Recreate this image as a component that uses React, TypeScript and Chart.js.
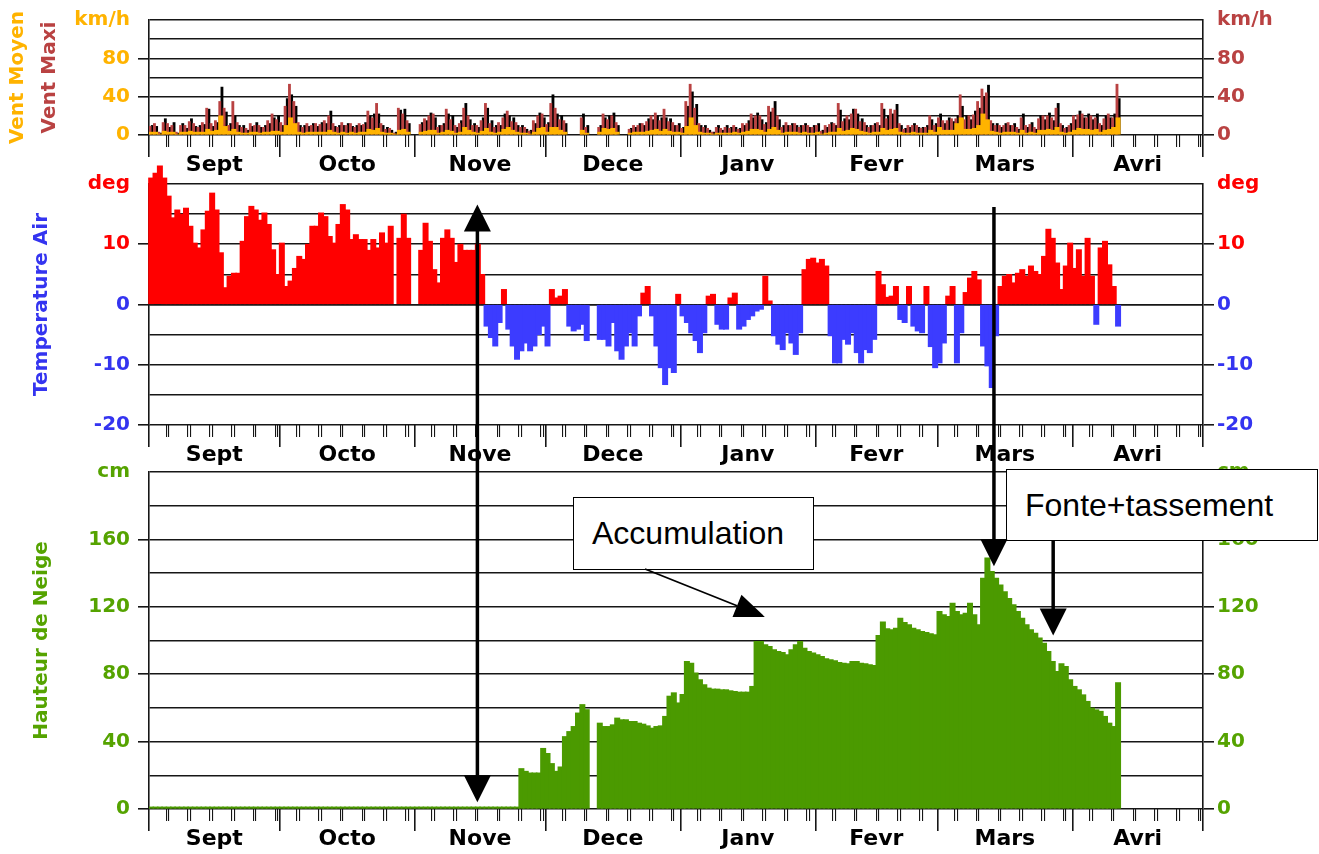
import React, { useEffect, useRef, useState } from 'react';
import { Chart, registerables } from 'chart.js';

Chart.register(...registerables);

// ---------------- DATA ----------------
const moisLabels = ['Sept', 'Octo', 'Nove', 'Dece', 'Janv', 'Fevr', 'Mars', 'Avri'];
// day index (0 = 1 Sept) of each month start, last = end of April
const debutsMois = [0, 30, 61, 91, 122, 153, 181, 212, 242];

// Vent maxi, second observation (black), km/h, one value per day from 1 Sept
const ventMaxiObs = [
  10, 9, 2, 17, 8, 13, 2, 12, 7, 17,
  9, 10, 11, 27, 9, 13, 50, 24, 12, 20,
  10, 10, 5, 9, 13, 8, 10, 12, 18, 20,
  10, 38, 42, 30, 10, 10, 9, 12, 9, 13,
  12, 25, 9, 10, 10, 12, 9, 10, 10, 13,
  20, 22, 22, 10, 8, 5, 3, 26, 27, 12,
  null, null, 13, 15, 23, 18, 10, 12, 22, 20,
  8, 15, 33, 16, 12, 8, 18, 28, 15, 10,
  10, 22, 20, 18, 10, 10, 6, 5, 12, 23,
  18, 13, 42, 22, 20, 12, null, null, null, 22,
  10, null, null, 10, 18, 20, 23, 10, null, null,
  7, 8, 12, 10, 17, 16, 20, 18, 18, 17,
  10, 12, 8, 30, 45, 32, 10, 10, 5, 3,
  10, 5, 10, 8, 8, 7, 10, 15, 18, 23,
  16, 13, 24, 35, 16, 10, 10, 12, 10, 10,
  12, 8, 10, 12, 5, 8, 13, 10, 26, 17,
  16, 27, 22, 17, 10, 10, 12, 10, 27, 20,
  22, 32, 10, 7, 8, 12, 8, 8, 10, 16,
  12, 22, 12, 18, 14, 20, 30, 20, 16, 25,
  28, 40, 52, 12, 12, 8, 12, 10, 12, 6,
  22, 8, 13, 6, 20, 16, 23, 15, 33, 10,
  8, 12, 16, 25, 18, 22, 16, 22, 10, 20,
  18, 22, 38,
];

// Vent Maxi (brown), km/h
const ventMaxi = [
  9, 12, 3, 13, 12, 10, 3, 10, 10, 14,
  12, 8, 13, 28, 12, 15, 35, 28, 10, 35,
  13, 8, 7, 12, 10, 10, 8, 15, 22, 16,
  13, 30, 53, 35, 13, 8, 12, 10, 12, 11,
  15, 20, 12, 8, 13, 10, 12, 8, 12, 11,
  25, 18, 33, 12, 6, 7, 2, 28, 22, 15,
  null, null, 11, 17, 20, 22, 8, 10, 27, 16,
  10, 12, 28, 20, 10, 10, 15, 33, 12, 8,
  13, 18, 25, 14, 13, 8, 8, 4, 15, 20,
  22, 11, 33, 28, 16, 15, null, null, null, 18,
  8, null, null, 8, 22, 16, 20, 13, null, null,
  6, 10, 10, 12, 14, 20, 23, 15, 27, 14,
  13, 10, 7, 35, 53, 28, 12, 8, 7, 3,
  8, 7, 8, 7, 10, 6, 12, 12, 22, 20,
  20, 11, 30, 28, 20, 8, 13, 10, 12, 8,
  10, 10, 8, 10, 4, 10, 11, 12, 33, 14,
  20, 22, 27, 14, 13, 8, 10, 13, 33, 17,
  27, 26, 12, 6, 10, 10, 10, 7, 8, 20,
  10, 18, 15, 15, 17, 17, 42, 16, 20, 21,
  35, 48, 44, 15, 10, 10, 10, 13, 10, 8,
  18, 10, 11, 8, 17, 20, 20, 18, 28, 12,
  7, 10, 20, 21, 22, 18, 20, 18, 12, 17,
  22, 18, 53,
];

// Vent Moyen (orange), km/h
const ventMoyen = [
  3, 3, 1, 4, 3, 3, 1, 3, 3, 4,
  3, 3, 3, 6, 4, 5, 20, 9, 4, 6,
  3, 2, 2, 3, 3, 2, 3, 3, 4, 4,
  3, 10, 18, 12, 3, 2, 3, 3, 3, 3,
  3, 5, 3, 2, 3, 2, 3, 2, 3, 3,
  6, 5, 7, 3, 2, 2, 1, 5, 6, 3,
  null, null, 3, 4, 5, 5, 2, 3, 5, 4,
  2, 3, 8, 5, 3, 2, 4, 7, 3, 2,
  3, 6, 8, 5, 3, 2, 2, 1, 3, 7,
  8, 3, 8, 8, 5, 3, null, null, null, 5,
  2, null, null, 3, 7, 6, 7, 3, null, null,
  2, 3, 3, 3, 4, 5, 6, 4, 6, 4,
  3, 3, 2, 9, 18, 10, 3, 2, 2, 1,
  2, 2, 2, 2, 3, 2, 3, 4, 6, 6,
  5, 3, 6, 8, 5, 2, 3, 3, 3, 2,
  3, 2, 2, 3, 1, 2, 3, 3, 7, 4,
  5, 7, 6, 4, 3, 2, 3, 3, 7, 5,
  6, 7, 3, 2, 2, 3, 2, 2, 2, 5,
  3, 8, 5, 5, 5, 12, 18, 6, 6, 7,
  10, 22, 16, 4, 3, 2, 3, 3, 3, 2,
  5, 2, 3, 2, 5, 5, 6, 5, 8, 3,
  2, 3, 5, 7, 6, 6, 5, 6, 3, 5,
  6, 8, 18,
];

// Temperature Air, deg
const temperatureAir = [
  21, 21.8, 23, 21, 18, 14.4, 15.7, 15, 16, 13,
  10.2, 9.4, 12.4, 15.5, 18.5, 15.7, 8.6, 2.8, 4.7, 5.2,
  5.2, 10.5, 14.6, 16.3, 15.7, 14, 15.2, 13.3, 9.1, 5,
  10.2, 3, 3.9, 6, 8, 7.5, 10, 13, 13, 15.2,
  14.6, 11.3, 10.2, 13.3, 16.6, 15.7, 10.8, 11.6, 10.8, 10.8,
  9, 10.8, 9.4, 11.9, 10.2, 13, null, 11, 15, 11,
  null, null, 9, 13.5, 10.5, 5.8, 3.6, 11, 12.4, 11,
  7, 10, 9, 9, 9, 10, 5, -3.6, -5.5, -6.9,
  -3, 2.5, -4.1, -6.9, -9.1, -7.7, -6.4, -7.7, -6.9, -5,
  -3.6, -6.9, 2.5, 1.1, 1.4, 2.5, -3.6, -4.4, -4.1, -3.3,
  -6, null, null, -5.8, -5.8, -6.9, -3, -7.7, -9.1, -6.9,
  -4.7, -6.9, -1.9, 1.9, 3, -1.9, -6.9, -10.5, -13.3, -10.5,
  -11.3, 1.7, -1.9, -3, -4.7, -6, -8, -4.7, 1.4, 1.7,
  -3.3, -4.1, -4.1, 1.1, 1.9, -4.1, -3.6, -2.5, -1.9, -1.1,
  -0.8, 4.7, 0.6, -5.2, -6.6, -7.5, -4.7, -6.4, -8.3, -4.7,
  5.8, 7.5, 7.7, 6.9, 7.5, 6.4, -5.2, -9.7, -9.7, -5.8,
  -6.6, -4.7, -8, -9.7, -7.5, -8, -5.8, 5.5, 3.3, 1.2,
  1.4, 3, -2.5, -3, 3, -3.6, -4.4, -4.7, 3, -7,
  -10.5, -9.7, -6.4, 1.4, 3, -9.7, -4.7, 2, 4.4, 5.5,
  4.1, -6.9, -10.2, -13.8, -5.2, 3, 4.7, 5, 3.6, 5.2,
  5.8, 4.7, 6.4, 5.5, 5, 8, 12.5, 11, 6.9, 2.5,
  6.4, 10.2, 6, 9.1, 4.7, 11, 4.7, -3.3, 9.4, 10.5,
  6.6, 3, -3.6,
];

// Hauteur de Neige, cm
const hauteurNeige = [
  0, 0, 0, 0, 0, 0, 0, 0, 0, 0,
  0, 0, 0, 0, 0, 0, 0, 0, 0, 0,
  0, 0, 0, 0, 0, 0, 0, 0, 0, 0,
  0, 0, 0, 0, 0, 0, 0, 0, 0, 0,
  0, 0, 0, 0, 0, 0, 0, 0, 0, 0,
  0, 0, 0, 0, 0, 0, 0, 0, 0, 0,
  0, 0, 0, 0, 0, 0, 0, 0, 0, 0,
  0, 0, 0, 0, 0, 0, 0, 0, 0, 0,
  0, 0, 0, 0, 0, 24, 22.4, 21.4, 21.4, 21.4,
  36, 33, 27, 22.4, 25, 43, 46, 49, 57, 62,
  59, null, null, 51, 49, 49, 50, 54, 53, 53,
  52, 52, 51, 50.4, 49.4, 48, 49, 49.4, 55, 67,
  69, 63, 68, 87.6, 86.6, 80.7, 76.7, 73.8, 71.8, 71.2,
  71.2, 70.8, 70.8, 70.2, 69.8, 69.4, 69.4, 69.4, 72.8, 99.5,
  99.5, 97.5, 96.5, 94.5, 93.6, 93, 91.6, 94.5, 97.5, 99.5,
  95.5, 93.6, 92.6, 91.6, 90.6, 89.2, 88.6, 88, 87, 86.6,
  86.2, 87.6, 87.6, 86.6, 86.2, 85.6, 85.2, 103, 111, 107,
  106.4, 107.4, 113.3, 110.8, 109.4, 107.4, 106.4, 105.4, 104.8, 104,
  103.5, 117.3, 115.3, 114.3, 122.2, 117.3, 115.3, 116.3, 122.2, 115.3,
  109.4, 137, 149, 141, 137, 133, 129, 125, 121.3, 117.3,
  113.3, 109.4, 106.4, 104.4, 101.5, 98.5, 93.6, 87.6, 81.7, 86.2,
  84.7, 76.7, 72.8, 70.8, 67.8, 63.9, 59.9, 58.9, 58, 55,
  51, 49, 75,
];

// annotation anchors (data coordinates: day index, value)
const flecheDebutNeige = { jour: 75.4, temp: 16.6, neige: 4 };
const flechePic = { jour: 194, temp: 16.2, neige: 144 };
const flecheFonte = { jour: 207.6, neige: 103 };
const flecheAccumulation = { jour: 141.4, neige: 114 };

// ---------------- STYLE ----------------
const FONT = 'DejaVu Sans';
const ORANGE = '#ffb300';
const BROWN = '#b94242';
const RED = '#ff0000';
const BLUE = '#3c3cff';
const BLUE_TXT = '#3434f0';
const GREEN = '#4b9a00';
const GREEN_TXT = '#55a300';
const LINE = '#161616';
const CLEAR = 'rgba(0,0,0,0)';
const X_MAX = 242;
const W = 1319;

const TOP1 = 0, H1 = 180;
const TOP2 = 160, H2 = 310;
const TOP3 = 440, H3 = 414;

const toPoints = (arr: (number | null)[]) => arr.map((v, i) => ({ x: i + 0.5, y: v }));

function minorTickValues() {
  const out: number[] = [];
  for (let m = 0; m < 8; m++) {
    const len = debutsMois[m + 1] - debutsMois[m];
    for (let k = 5; k <= len && k <= 30; k += 5) {
      const c = debutsMois[m] + k - 0.75;
      out.push(c - 0.3, c + 0.3);
    }
  }
  return out;
}

function xScales(yMin: number) {
  return {
    x: {
      type: 'linear', axis: 'x', position: 'bottom', min: 0, max: X_MAX, offset: false,
      afterBuildTicks: (s: any) => {
        s.ticks = moisLabels.map((_, i) => ({ value: (debutsMois[i] + debutsMois[i + 1]) / 2 }));
      },
      afterFit: (s: any) => { s.height = 45; },
      grid: { display: false, drawTicks: false, drawOnChartArea: false, offset: false },
      border: { display: false },
      ticks: {
        autoSkip: false, maxRotation: 0, minRotation: 0, padding: 17, color: '#000',
        font: { family: FONT, size: 22, weight: 'bold' },
        callback: (_v: any, i: number) => moisLabels[i],
      },
    },
    xMois: {
      type: 'linear', axis: 'x', position: { y: yMin }, min: 0, max: X_MAX, offset: false,
      afterBuildTicks: (s: any) => { s.ticks = debutsMois.map((v) => ({ value: v })); },
      afterFit: (s: any) => { s.height = 0; },
      grid: { drawOnChartArea: false, drawTicks: true, tickLength: 22, color: LINE, lineWidth: 1.6, offset: false },
      border: { display: false },
      ticks: { display: false, autoSkip: false },
    },
    xJours: {
      type: 'linear', axis: 'x', position: { y: yMin }, min: 0, max: X_MAX, offset: false,
      afterBuildTicks: (s: any) => { s.ticks = minorTickValues().map((v) => ({ value: v })); },
      afterFit: (s: any) => { s.height = 0; },
      grid: { drawOnChartArea: false, drawTicks: true, tickLength: 12, color: LINE, lineWidth: 1.1, offset: false },
      border: { display: false },
      ticks: { display: false, autoSkip: false },
    },
  };
}

function yScale(p: any) {
  const { min, max, step, unit, position, color, width, title, titleColor, titlePad, onArea } = p;
  const isNum = (v: number) => v !== max && v % (2 * step) === 0;
  return {
    type: 'linear', axis: 'y', position, min, max,
    afterFit: (s: any) => { s.width = width; },
    grid: {
      drawOnChartArea: onArea, drawTicks: true, tickLength: 11, color: LINE, lineWidth: 1.6,
      tickColor: (c: any) => (c.tick && isNum(c.tick.value) ? LINE : CLEAR),
    },
    border: { display: true, color: LINE, width: 1.6 },
    ticks: {
      stepSize: step, autoSkip: false, padding: position === 'left' ? 8 : 3,
      color, font: { family: FONT, size: 20, weight: 'bold' },
      callback: (v: number) => (v === max ? unit : isNum(v) ? String(v) : ''),
    },
    title: title
      ? { display: true, text: title, color: titleColor, font: { family: FONT, size: 20, weight: 'bold' }, padding: { top: titlePad, bottom: 0 } }
      : { display: false },
  };
}

const baseOptions = (padTop: number) => ({
  responsive: false,
  maintainAspectRatio: false,
  animation: false,
  layout: { padding: { top: padTop, left: 0, right: 0, bottom: 0 } },
  plugins: { legend: { display: false }, tooltip: { enabled: false } },
});

export default function App() {
  const c1 = useRef<HTMLCanvasElement>(null);
  const c2 = useRef<HTMLCanvasElement>(null);
  const c3 = useRef<HTMLCanvasElement>(null);
  const [ann, setAnn] = useState<any>(null);

  useEffect(() => {
    document.body.style.margin = '0';

    const barWind = { barPercentage: 1, categoryPercentage: 1, borderWidth: 0 };
    const barFull = { barThickness: 5.2, borderWidth: 0, inflateAmount: 0.4 };

    const ch1 = new Chart(c1.current as any, {
      type: 'bar',
      data: {
        datasets: [
          { label: 'Vent Moyen', data: toPoints(ventMoyen), backgroundColor: ORANGE, grouped: false, order: 0, ...barWind },
          { label: 'Vent Maxi', data: toPoints(ventMaxi), backgroundColor: BROWN, order: 1, ...barWind },
          { label: 'Vent Maxi obs.', data: toPoints(ventMaxiObs), backgroundColor: '#000', order: 2, ...barWind },
        ],
      },
      options: {
        ...baseOptions(16),
        scales: {
          ...xScales(0),
          y: yScale({ min: 0, max: 120, step: 20, unit: 'km/h', position: 'left', color: ORANGE, width: 115, title: 'Vent Maxi', titleColor: BROWN, titlePad: 4, onArea: true }),
          yTitre: {
            type: 'linear', axis: 'y', position: 'left', weight: 10,
            afterFit: (s: any) => { s.width = 34; },
            grid: { display: false }, border: { display: false }, ticks: { display: false },
            title: { display: true, text: 'Vent Moyen', color: ORANGE, font: { family: FONT, size: 20, weight: 'bold' }, padding: { top: 6, bottom: 0 } },
          },
          yR: yScale({ min: 0, max: 120, step: 20, unit: 'km/h', position: 'right', color: BROWN, width: W - 1203, onArea: false }),
        },
      } as any,
    });

    const ch2 = new Chart(c2.current as any, {
      type: 'bar',
      data: {
        datasets: [
          {
            label: 'Temperature Air', data: toPoints(temperatureAir),
            backgroundColor: temperatureAir.map((v) => (v !== null && v >= 0 ? RED : BLUE)),
            clip: false, ...barFull,
          } as any,
        ],
      },
      options: {
        ...baseOptions(24),
        scales: {
          ...xScales(-20),
          y: yScale({ min: -20, max: 20, step: 5, unit: 'deg', position: 'left', color: (c: any) => (c.tick.value > 0 ? RED : BLUE_TXT), width: 149, title: 'Temperature Air', titleColor: BLUE_TXT, titlePad: 30, onArea: true }),
          yR: yScale({ min: -20, max: 20, step: 5, unit: 'deg', position: 'right', color: (c: any) => (c.tick.value > 0 ? RED : BLUE_TXT), width: W - 1203, onArea: false }),
          yZero: {
            type: 'linear', axis: 'y', position: 'left', min: -20, max: 20, weight: -5, z: 1,
            afterFit: (s: any) => { s.width = 0; },
            grid: { drawOnChartArea: true, drawTicks: false, lineWidth: 1.6, color: (c: any) => (c.tick && c.tick.value === 0 ? LINE : CLEAR) },
            border: { display: false },
            ticks: { display: false, stepSize: 5 },
          },
        },
      } as any,
    });

    const ch3 = new Chart(c3.current as any, {
      type: 'bar',
      data: {
        datasets: [
          { label: 'Hauteur de Neige', data: toPoints(hauteurNeige), backgroundColor: GREEN, minBarLength: 2, ...barFull } as any,
        ],
      },
      options: {
        ...baseOptions(32),
        scales: {
          ...xScales(0),
          y: yScale({ min: 0, max: 200, step: 20, unit: 'cm', position: 'left', color: GREEN_TXT, width: 149, title: 'Hauteur de Neige', titleColor: GREEN_TXT, titlePad: 30, onArea: true }),
          yR: yScale({ min: 0, max: 200, step: 20, unit: 'cm', position: 'right', color: GREEN_TXT, width: W - 1203, onArea: false }),
        },
      } as any,
    });

    const X = (d: number) => ch3.scales.x.getPixelForValue(d);
    const Y2 = (v: number) => TOP2 + ch2.scales.y.getPixelForValue(v);
    const Y3 = (v: number) => TOP3 + ch3.scales.y.getPixelForValue(v);
    setAnn({
      aX: X(flecheDebutNeige.jour), aTop: Y2(flecheDebutNeige.temp), aBot: Y3(flecheDebutNeige.neige),
      bX: X(flechePic.jour), bTop: Y2(flechePic.temp), bTip: Y3(flechePic.neige),
      cX: X(flecheFonte.jour), cTip: Y3(flecheFonte.neige),
      dX: X(flecheAccumulation.jour), dY: Y3(flecheAccumulation.neige),
    });

    return () => { ch1.destroy(); ch2.destroy(); ch3.destroy(); };
  }, []);

  const canvasStyle = (top: number, h: number): React.CSSProperties => ({
    position: 'absolute', left: 0, top, width: W, height: h,
  });

  const boxStyle = (left: number, top: number, w: number, h: number): React.CSSProperties => ({
    position: 'absolute', left, top, width: w, height: h, boxSizing: 'border-box',
    border: '1.5px solid #000', background: '#fff', display: 'flex', alignItems: 'center',
    paddingLeft: 18, fontFamily: '"Liberation Sans", Arial, sans-serif', fontSize: 32, color: '#000',
    whiteSpace: 'nowrap',
  });

  const head = (x: number, tipY: number, dir: number, w = 27, h = 27) =>
    `${x},${tipY} ${x - w / 2},${tipY - dir * h} ${x + w / 2},${tipY - dir * h}`;

  let dHead = '';
  let dLine: any = null;
  if (ann) {
    const sx = 645, sy = 569;
    const vx = ann.dX - sx, vy = ann.dY - sy;
    const L = Math.hypot(vx, vy);
    const ux = vx / L, uy = vy / L;
    const bx = ann.dX - 30 * ux, by = ann.dY - 30 * uy;
    const px = -uy * 12, py = ux * 12;
    dHead = `${ann.dX},${ann.dY} ${bx + px},${by + py} ${bx - px},${by - py}`;
    dLine = { x1: sx, y1: sy, x2: bx, y2: by };
  }

  return (
    <div style={{ position: 'relative', width: W, height: 854, overflow: 'hidden', background: '#fff' }}>
      <canvas ref={c1} width={W} height={H1} style={canvasStyle(TOP1, H1)} />
      <canvas ref={c2} width={W} height={H2} style={canvasStyle(TOP2, H2)} />
      <canvas ref={c3} width={W} height={H3} style={canvasStyle(TOP3, H3)} />
      <div style={boxStyle(573, 497, 241, 73)}>Accumulation</div>
      <div style={boxStyle(1006, 469, 312, 72)}>Fonte+tassement</div>
      {ann && (
        <svg width={W} height={854} style={{ position: 'absolute', left: 0, top: 0, pointerEvents: 'none' }}>
          <line x1={ann.aX} y1={ann.aTop + 20} x2={ann.aX} y2={ann.aBot - 20} stroke="#000" strokeWidth={3.5} />
          <polygon points={head(ann.aX, ann.aTop, -1)} fill="#000" />
          <polygon points={head(ann.aX, ann.aBot, 1)} fill="#000" />
          <line x1={ann.bX} y1={ann.bTop} x2={ann.bX} y2={ann.bTip - 20} stroke="#000" strokeWidth={3.5} />
          <polygon points={head(ann.bX, ann.bTip, 1)} fill="#000" />
          <line x1={ann.cX} y1={541} x2={ann.cX} y2={ann.cTip - 20} stroke="#000" strokeWidth={3.5} />
          <polygon points={head(ann.cX, ann.cTip, 1)} fill="#000" />
          {dLine && <line {...dLine} stroke="#000" strokeWidth={1.8} />}
          <polygon points={dHead} fill="#000" />
        </svg>
      )}
    </div>
  );
}
